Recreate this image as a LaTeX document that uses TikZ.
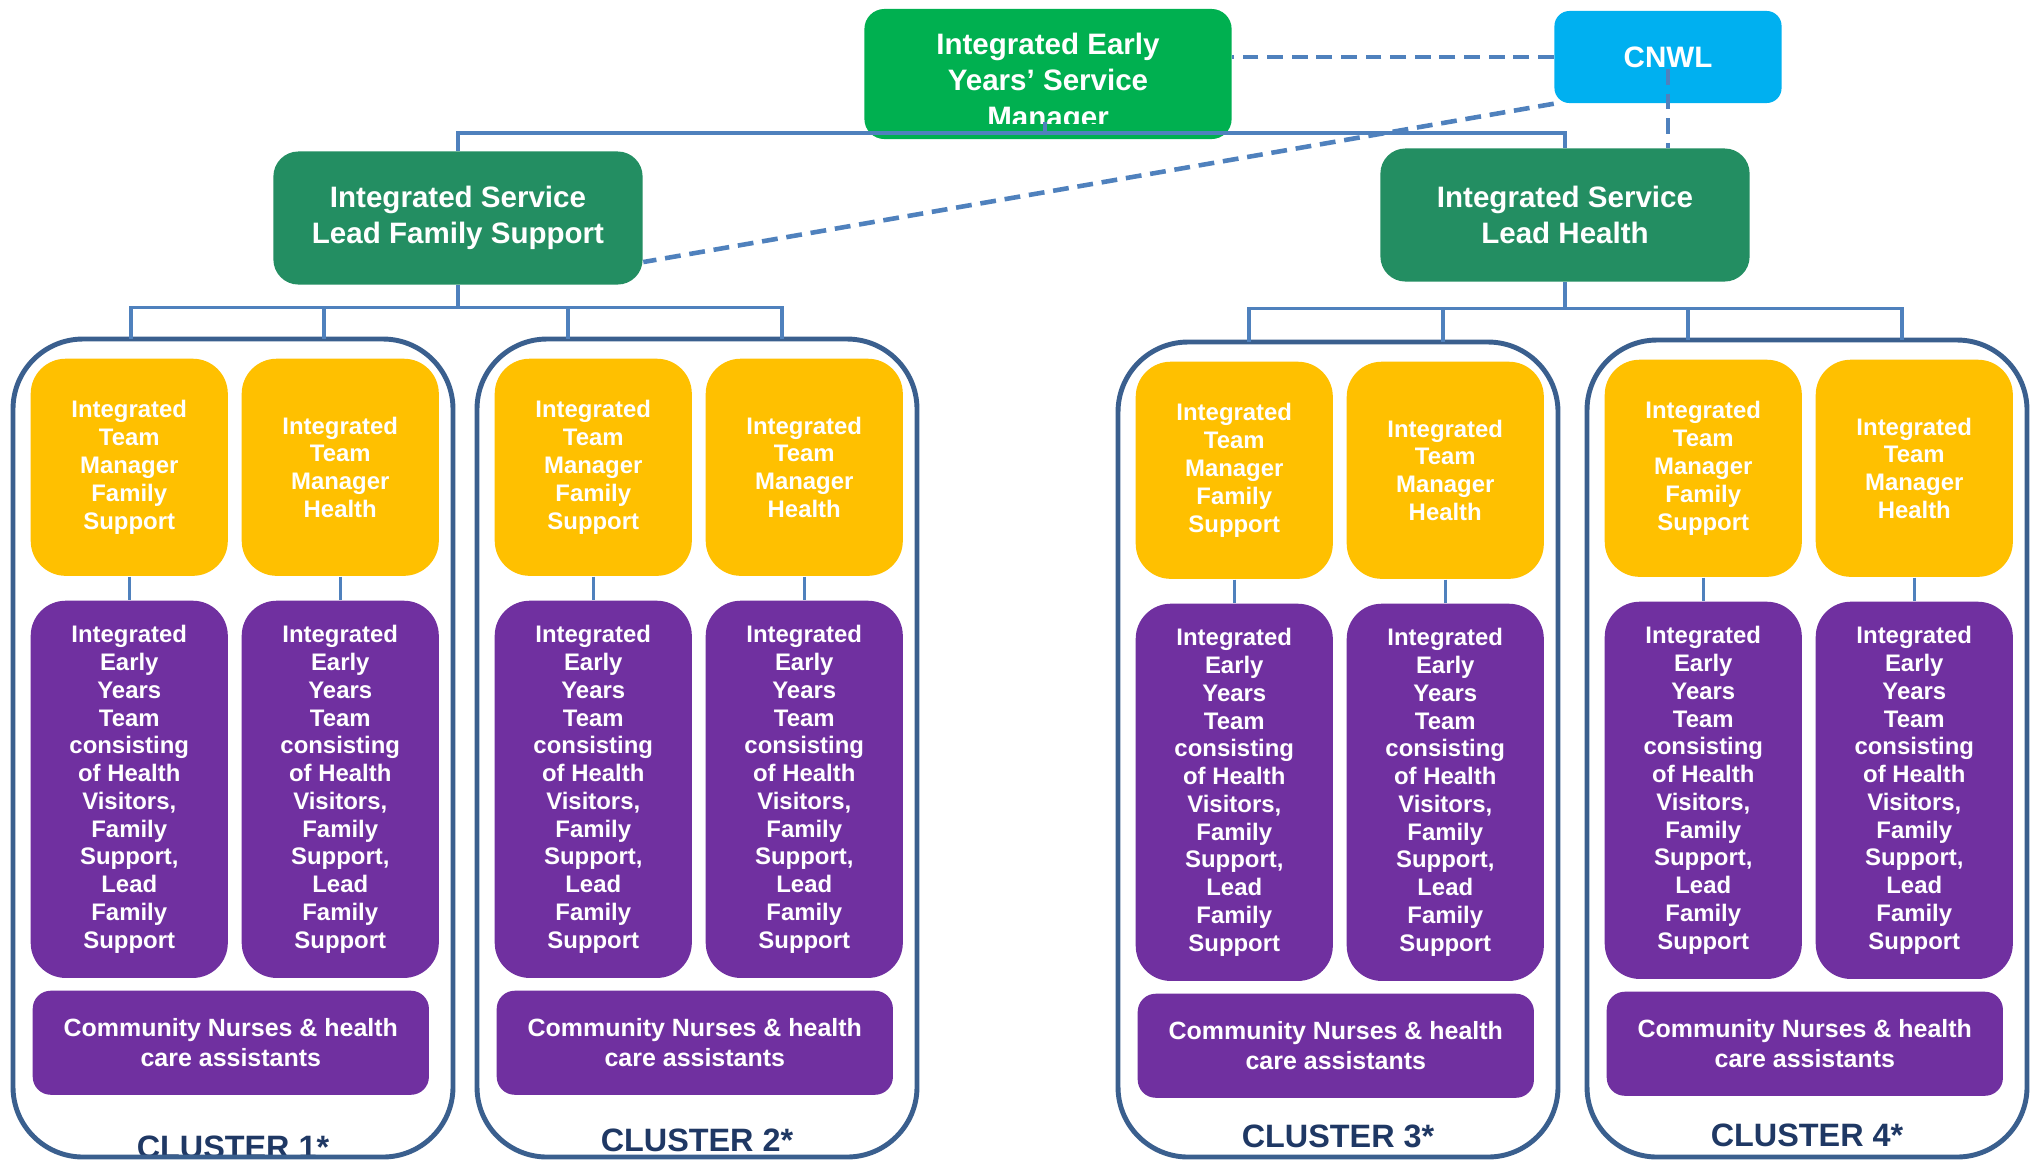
\documentclass[tikz,border=0pt]{standalone}
\usepackage{fontspec}
\setmainfont{Liberation Sans}

\definecolor{mgrgreen}{HTML}{00B050}
\definecolor{leadgreen}{HTML}{238E62}
\definecolor{cnwlblue}{HTML}{00B0F0}
\definecolor{tmyellow}{HTML}{FFC000}
\definecolor{tmpurple}{HTML}{7030A0}
\definecolor{linkblue}{HTML}{4F81BD}
\definecolor{clusterblue}{HTML}{3A5F8E}
\definecolor{clusternavy}{HTML}{1F3864}

\newcommand\eytext{Integrated\\Early\\Years\\Team\\consisting\\of Health\\Visitors,\\Family\\Support,\\Lead\\Family\\Support}

\tikzset{
  box/.style={text=white, align=center, inner sep=0pt},
  bigfont/.style={font=\fontsize{8.4}{10.4}\selectfont\bfseries},
  mgrbox/.style={box, fill=mgrgreen, rounded corners=0.2cm, minimum width=3.67cm, minimum height=1.3cm},
  bigtext/.style={box, bigfont},
  cnwlbox/.style={box, bigfont, fill=cnwlblue, rounded corners=0.15cm, minimum width=2.27cm, minimum height=0.92cm},
  leadbox/.style={box, bigfont, fill=leadgreen, rounded corners=0.25cm, minimum width=3.69cm, minimum height=1.33cm},
  tmgr/.style={box, fill=tmyellow, rounded corners=0.35cm, minimum width=1.97cm, minimum height=2.17cm,
    anchor=north west, font=\fontsize{6.8}{7.9}\selectfont\bfseries},
  eyteam/.style={tmgr, fill=tmpurple, minimum height=3.77cm},
  nurses/.style={box, fill=tmpurple, rounded corners=0.18cm, minimum width=3.96cm, minimum height=1.04cm,
    anchor=north west, font=\fontsize{7.1}{8.5}\selectfont\bfseries},
  clusterline/.style={draw=clusterblue, line width=1.4pt, rounded corners=0.7cm},
  clusterlabel/.style={text=clusternavy, inner sep=0pt, font=\fontsize{9.2}{11}\selectfont\bfseries},
  conn/.style={draw=linkblue, line width=0.9pt},
  link/.style={draw=linkblue, line width=1.3pt, dash pattern=on 4.5pt off 2.5pt}
}

\begin{document}
\begin{tikzpicture}[x=0.01cm,y=-0.01cm]
  \fill[white] (0,0) rectangle (2040,1160);
  \clip (0,0) rectangle (2040,1160);

  \node[mgrbox] (mgr) at (1048,74) {};
  \begin{scope}
    \clip (865,9) rectangle (1232,123);
    \node[bigtext] (mgrtext) at (1048,83) {Integrated Early\\Years’ Service\\Manager};
  \end{scope}
  \node[cnwlbox] (cnwl) at (1668,57) {CNWL};
  \node[leadbox] (fsl) at (458,218) {Integrated Service\\Lead Family Support};
  \node[leadbox] (hl) at (1565,215) {Integrated Service\\Lead Health};

  \coordinate (mgrfoot) at (1045,133);
  \draw[conn] (fsl.north) |- (mgrfoot) -| (hl.north);
  \draw[conn] (mgrfoot) -- ++(0,-11);
  \draw[link] (cnwl.west) -- (cnwl.west -| mgr.east);
  \draw[link] ([yshift=-0.12cm]cnwl.center) -- (cnwl.center |- hl.north);
  \draw[link] (cnwl.south west) -- ([yshift=-0.44cm]fsl.east);

  \foreach \i/\L/\T/\ly in {1/13/339/1147, 2/477/339/1140, 3/1118/342/1136, 4/1587/340/1135}{
    \coordinate (cl\i) at (\L,\T);
    \node[clusterlabel] (lab\i) at (\L+220,\ly) {CLUSTER \i*};
    \draw[clusterline] (cl\i) rectangle (\L+440,1157);
    \node[tmgr] (fs\i) at (\L+17,\T+19) {Integrated\\Team\\Manager\\Family\\Support};
    \node[tmgr] (hm\i) at (\L+228,\T+19) {Integrated\\Team\\Manager\\Health};
    \node[eyteam] (efs\i) at (\L+17,\T+261) {\eytext};
    \node[eyteam] (ehm\i) at (\L+228,\T+261) {\eytext};
    \node[nurses] (cn\i) at (\L+19,\T+651) {Community Nurses \& health\\care assistants};
    \draw[conn] (fs\i.south) -- (efs\i.north);
    \draw[conn] (hm\i.south) -- (ehm\i.north);
  }

  \foreach \c/\dx in {1/118, 1/311, 2/91, 2/305}
    \draw[conn] (fsl.south) -- ++(0,22) -| ([xshift=\dx*0.01cm]cl\c);
  \foreach \c/\dx in {3/131, 3/325, 4/101, 4/315}
    \draw[conn] (hl.south) -- ++(0,26) -| ([xshift=\dx*0.01cm]cl\c);
\end{tikzpicture}
\end{document}
